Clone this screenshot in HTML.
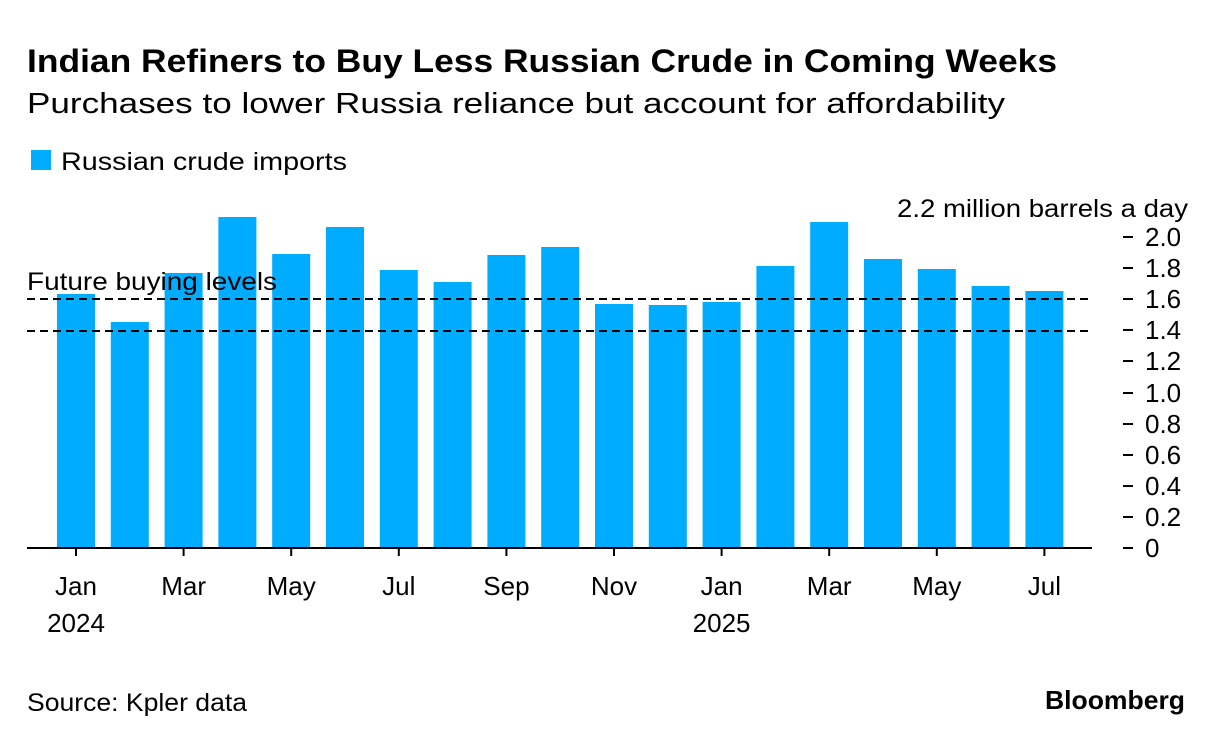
<!DOCTYPE html>
<html><head><meta charset="utf-8"><style>
body{margin:0;background:#fff;width:1223px;height:744px;overflow:hidden;font-family:"Liberation Sans",sans-serif;}
</style></head><body>
<svg width="1223" height="744" xmlns="http://www.w3.org/2000/svg" font-family="Liberation Sans, sans-serif">
<text x="27" y="72" font-size="32" font-weight="bold" fill="#000" textLength="1030" lengthAdjust="spacingAndGlyphs">Indian Refiners to Buy Less Russian Crude in Coming Weeks</text>
<text x="27" y="113" font-size="29" fill="#000" textLength="978" lengthAdjust="spacingAndGlyphs">Purchases to lower Russia reliance but account for affordability</text>
<rect x="31" y="150" width="20" height="20" fill="#00acff"/>
<text x="61" y="170" font-size="25" fill="#000" textLength="286" lengthAdjust="spacingAndGlyphs">Russian crude imports</text>
<text x="897" y="217" font-size="25" fill="#000" textLength="291" lengthAdjust="spacingAndGlyphs">2.2 million barrels a day</text>
<g fill="#00acff">
<rect x="57" y="294" width="38" height="254"/>
<rect x="110.8" y="322" width="38" height="226"/>
<rect x="164.6" y="273" width="38" height="275"/>
<rect x="218.4" y="217" width="38" height="331"/>
<rect x="272.2" y="254" width="38" height="294"/>
<rect x="326" y="227" width="38" height="321"/>
<rect x="379.8" y="270" width="38" height="278"/>
<rect x="433.6" y="282" width="38" height="266"/>
<rect x="487.4" y="255" width="38" height="293"/>
<rect x="541.2" y="247" width="38" height="301"/>
<rect x="595" y="304" width="38" height="244"/>
<rect x="648.8" y="305" width="38" height="243"/>
<rect x="702.6" y="302" width="38" height="246"/>
<rect x="756.4" y="266" width="38" height="282"/>
<rect x="810.2" y="222" width="38" height="326"/>
<rect x="864" y="259" width="38" height="289"/>
<rect x="917.8" y="269" width="38" height="279"/>
<rect x="971.6" y="286" width="38" height="262"/>
<rect x="1025.4" y="291" width="38" height="257"/>
</g>
<line x1="27" y1="299" x2="1092" y2="299" stroke="#000" stroke-width="2" stroke-dasharray="8,5"/>
<line x1="27" y1="331" x2="1092" y2="331" stroke="#000" stroke-width="2" stroke-dasharray="8,5"/>
<text x="27" y="290" font-size="25" fill="#000" textLength="250" lengthAdjust="spacingAndGlyphs">Future buying levels</text>
<line x1="27" y1="548" x2="1092" y2="548" stroke="#000" stroke-width="2"/>
<g stroke="#000" stroke-width="2">
<line x1="76" y1="548" x2="76" y2="556"/><line x1="183.6" y1="548" x2="183.6" y2="556"/><line x1="291.2" y1="548" x2="291.2" y2="556"/><line x1="398.8" y1="548" x2="398.8" y2="556"/><line x1="506.4" y1="548" x2="506.4" y2="556"/><line x1="614" y1="548" x2="614" y2="556"/><line x1="721.6" y1="548" x2="721.6" y2="556"/><line x1="829.2" y1="548" x2="829.2" y2="556"/><line x1="936.8" y1="548" x2="936.8" y2="556"/><line x1="1044.4" y1="548" x2="1044.4" y2="556"/>
</g>
<g font-size="26" fill="#000" text-anchor="middle">
<text x="76" y="595">Jan</text><text x="76" y="632">2024</text>
<text x="183.6" y="595">Mar</text><text x="291.2" y="595">May</text><text x="398.8" y="595">Jul</text><text x="506.4" y="595">Sep</text><text x="614" y="595">Nov</text>
<text x="721.6" y="595">Jan</text><text x="721.6" y="632">2025</text>
<text x="829.2" y="595">Mar</text><text x="936.8" y="595">May</text><text x="1044.4" y="595">Jul</text>
</g>
<g stroke="#000" stroke-width="2">
<line x1="1123" y1="548" x2="1133" y2="548"/><line x1="1123" y1="517" x2="1133" y2="517"/><line x1="1123" y1="486" x2="1133" y2="486"/><line x1="1123" y1="455" x2="1133" y2="455"/><line x1="1123" y1="424" x2="1133" y2="424"/><line x1="1123" y1="393" x2="1133" y2="393"/><line x1="1123" y1="361" x2="1133" y2="361"/><line x1="1123" y1="330" x2="1133" y2="330"/><line x1="1123" y1="299" x2="1133" y2="299"/><line x1="1123" y1="268" x2="1133" y2="268"/><line x1="1123" y1="237" x2="1133" y2="237"/>
</g>
<g font-size="26" fill="#000">
<text x="1145" y="557">0</text><text x="1145" y="526">0.2</text><text x="1145" y="495">0.4</text><text x="1145" y="464">0.6</text><text x="1145" y="433">0.8</text><text x="1145" y="402">1.0</text><text x="1145" y="370">1.2</text><text x="1145" y="339">1.4</text><text x="1145" y="308">1.6</text><text x="1145" y="277">1.8</text><text x="1145" y="246">2.0</text>
</g>
<text x="27" y="711" font-size="25" fill="#000" textLength="220" lengthAdjust="spacingAndGlyphs">Source: Kpler data</text>
<text x="1045" y="709" font-size="26" font-weight="bold" fill="#000" textLength="140" lengthAdjust="spacingAndGlyphs">Bloomberg</text>
</svg>
</body></html>
